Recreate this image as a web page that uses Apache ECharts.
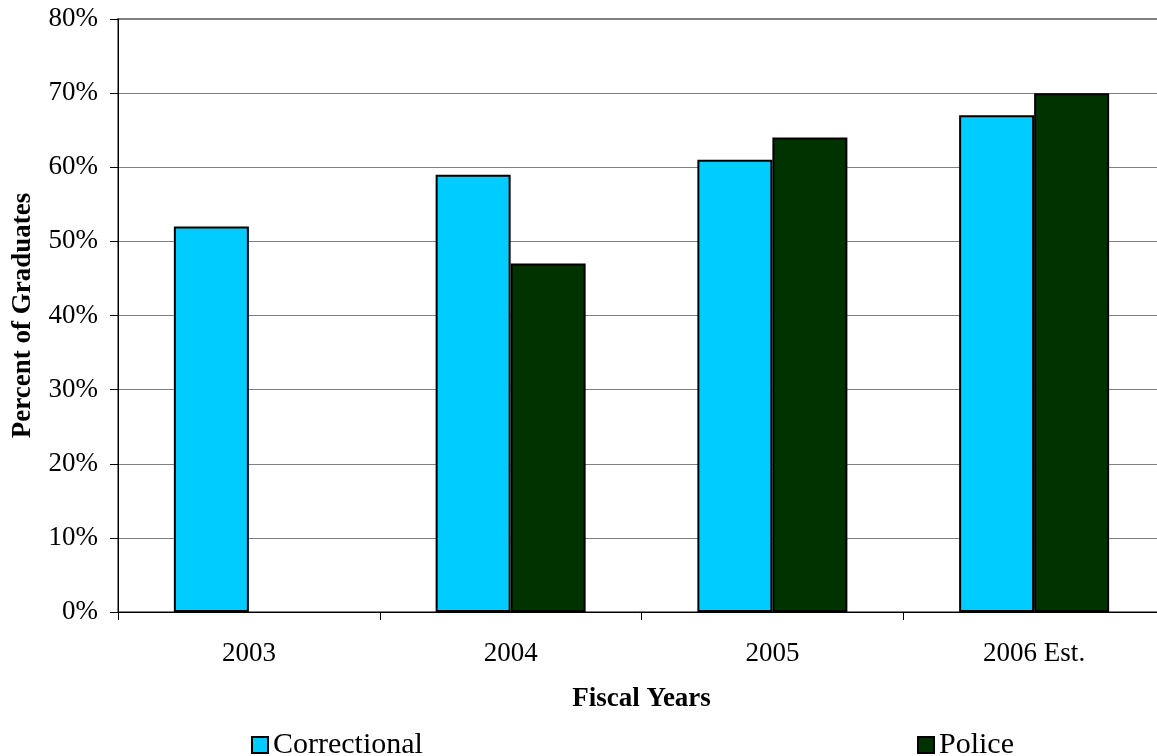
<!DOCTYPE html>
<html>
<head>
<meta charset="utf-8">
<script src="https://cdn.jsdelivr.net/npm/echarts@6/dist/echarts.min.js"></script>
<style>
  html, body { margin: 0; padding: 0; background: #fff; }
  #chart { width: 1157px; height: 756px; }
</style>
</head>
<body>
<div id="chart"></div>
<script>
// data
var years = ['2003', '2004', '2005', '2006 Est.'];
var correctional = [52, 59, 61, 67];
var police = [null, 47, 64, 70];
var yTicks = [0, 10, 20, 30, 40, 50, 60, 70, 80];

var serif = '"Liberation Serif", "Times New Roman", serif';

var myChart = echarts.init(document.getElementById('chart'));
var option = {
  animation: false,
  grid: {
    left: 118, right: -8, top: 19, bottom: 144,
    containLabel: false, outerBoundsMode: 'none',
    show: true, borderColor: '#808080', borderWidth: 2, backgroundColor: 'transparent'
  },
  legend: [
    {
      data: ['Correctional'], left: 246, top: 725, icon: 'rect',
      itemWidth: 16, itemHeight: 16, itemGap: 6,
      itemStyle: { borderColor: '#000', borderWidth: 2 },
      textStyle: { fontFamily: serif, fontSize: 30, color: '#000' }
    },
    {
      data: ['Police'], left: 912, top: 725, icon: 'rect',
      itemWidth: 16, itemHeight: 16, itemGap: 6,
      itemStyle: { borderColor: '#000', borderWidth: 2 },
      textStyle: { fontFamily: serif, fontSize: 30, color: '#000' }
    }
  ],
  xAxis: {
    type: 'category',
    data: years,
    name: 'Fiscal Years',
    nameLocation: 'middle',
    nameGap: 74,
    nameTextStyle: { fontFamily: serif, fontSize: 27, fontWeight: 'bold', color: '#000' },
    axisLine: { lineStyle: { color: '#000', width: 1 } },
    axisTick: { show: true, length: 8, lineStyle: { color: '#000' } },
    axisLabel: { fontFamily: serif, fontSize: 27, color: '#000', margin: 28 }
  },
  yAxis: {
    type: 'value',
    min: yTicks[0],
    max: yTicks[yTicks.length - 1],
    interval: 10,
    name: 'Percent of Graduates',
    nameLocation: 'middle',
    nameGap: 81,
    nameTextStyle: { fontFamily: serif, fontSize: 27, fontWeight: 'bold', color: '#000' },
    axisLine: { show: true, lineStyle: { color: '#000', width: 1 } },
    axisTick: { show: true, length: 8, lineStyle: { color: '#000' } },
    axisLabel: { fontFamily: serif, fontSize: 27, color: '#000', margin: 20, formatter: '{value}%' },
    splitLine: { show: true, lineStyle: { color: '#808080', width: 1 } }
  },
  series: [
    {
      name: 'Correctional',
      type: 'bar',
      data: correctional,
      barWidth: 75,
      barGap: '0%',
      itemStyle: { color: '#00CCFF', borderColor: '#000', borderWidth: 2 }
    },
    {
      name: 'Police',
      type: 'bar',
      data: police,
      barWidth: 75,
      itemStyle: { color: '#003300', borderColor: '#000', borderWidth: 2 }
    }
  ]
};

myChart.setOption(option);
</script>
</body>
</html>
